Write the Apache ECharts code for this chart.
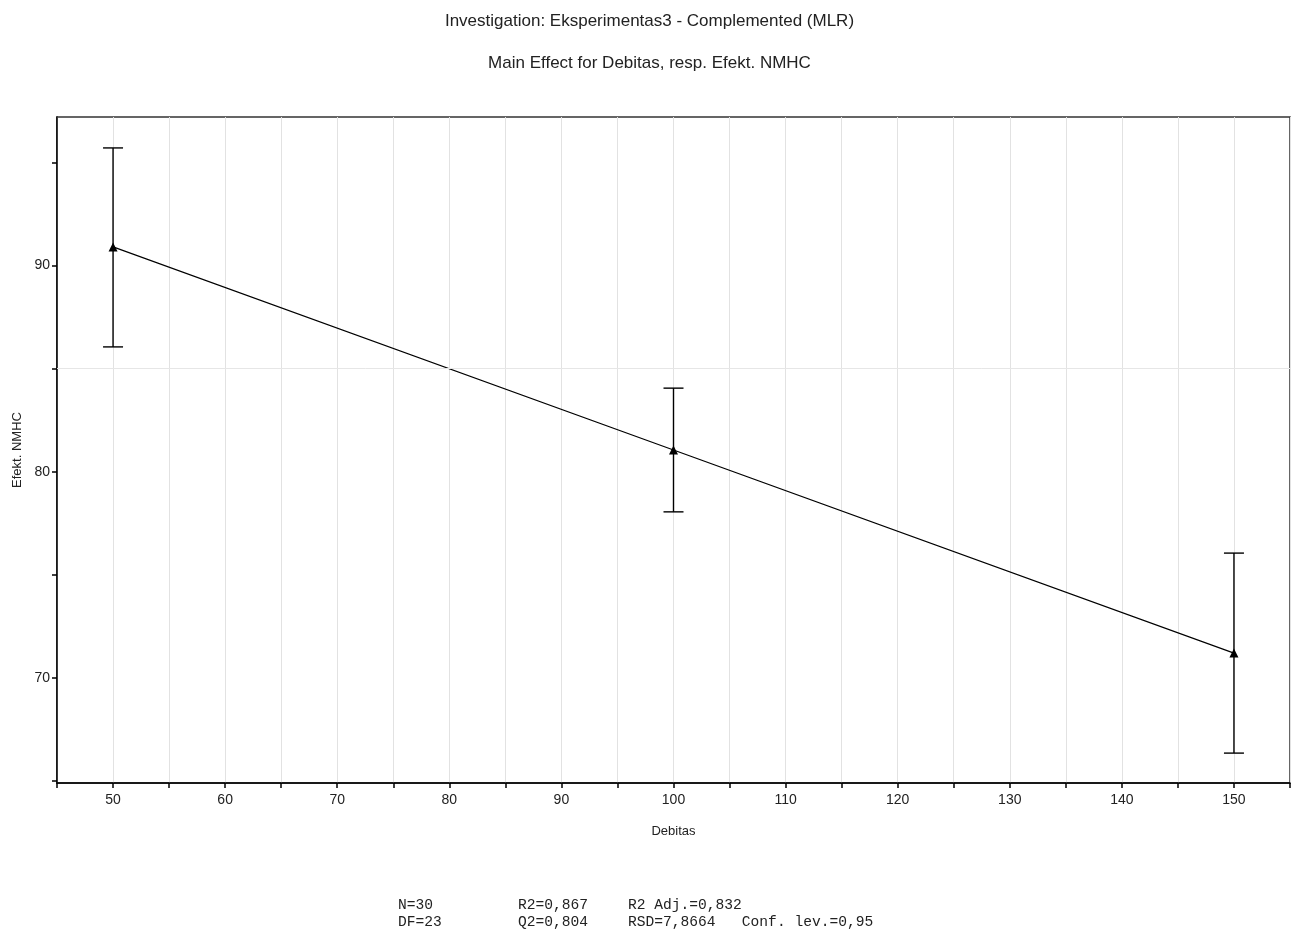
<!DOCTYPE html>
<html>
<head>
<meta charset="utf-8">
<script src="https://cdn.jsdelivr.net/npm/echarts@6/dist/echarts.min.js"></script>
<style>html,body{margin:0;padding:0;background:#fff}#c{width:1299px;height:935px}</style>
</head>
<body>
<div id="c"></div>
<script>
const debitas = [50, 100, 150];
const effect = [90.9, 81.05, 71.2];
const upper = [95.7, 84.05, 76.05];
const lower = [86.05, 78.05, 66.35];
const yTicks = [65, 70, 75, 80, 85, 90, 95];
const yLabels = [70, 80, 90];
const footRow1 = ['N=30', 'R2=0,867', 'R2 Adj.=0,832'];
const footRow2 = ['DF=23', 'Q2=0,804', 'RSD=7,8664   Conf. lev.=0,95'];

const chart = echarts.init(document.getElementById('c'));
const sans = '"Liberation Sans", Arial, sans-serif';
const mono = '"Liberation Mono", "Courier New", monospace';
const footX = [398, 518, 628];

const graphics = [];
footRow1.forEach((t, i) => graphics.push({type: 'text', left: footX[i], top: 898, style: {text: t, font: '14.6px ' + mono, fill: '#222'}}));
footRow2.forEach((t, i) => graphics.push({type: 'text', left: footX[i], top: 915, style: {text: t, font: '14.6px ' + mono, fill: '#222'}}));

chart.setOption({
  animation: false,
  backgroundColor: '#fff',
  title: [
    {text: 'Investigation: Eksperimentas3 - Complemented (MLR)', left: 'center', top: 8,
     textStyle: {fontFamily: sans, fontSize: 17, fontWeight: 'normal', color: '#222'}},
    {text: 'Main Effect for Debitas, resp. Efekt. NMHC', left: 'center', top: 50,
     textStyle: {fontFamily: sans, fontSize: 17, fontWeight: 'normal', color: '#222'}}
  ],
  graphic: graphics,
  grid: {left: 57, right: 9, top: 117, bottom: 152, outerBoundsMode: 'none', containLabel: false,
    show: true, borderColor: '#333', borderWidth: 1.5, backgroundColor: 'transparent'},
  xAxis: {
    type: 'value', min: 45, max: 155, interval: 5,
    name: 'Debitas', nameLocation: 'middle', nameGap: 42,
    nameTextStyle: {fontFamily: sans, fontSize: 13, color: '#222'},
    axisLine: {lineStyle: {color: '#000', width: 1.5}},
    axisTick: {length: 5, lineStyle: {color: '#000', width: 1.5}},
    axisLabel: {fontFamily: sans, fontSize: 14, color: '#222', margin: 10,
      formatter: v => (v % 10 === 0 ? String(v) : '')},
    splitLine: {show: true, lineStyle: {color: '#e2e2e2', width: 1}}
  },
  yAxis: {
    type: 'value', min: 64.9, max: 97.2,
    name: 'Efekt. NMHC', nameLocation: 'middle', nameGap: 33,
    nameTextStyle: {fontFamily: sans, fontSize: 13, color: '#222'},
    axisLine: {show: true, lineStyle: {color: '#000', width: 1.5}},
    axisTick: {show: true, length: 5, customValues: yTicks, lineStyle: {color: '#000', width: 1.5}},
    axisLabel: {fontFamily: sans, fontSize: 14, color: '#222', margin: 7, customValues: yLabels},
    splitLine: {show: false}
  },
  series: [
    {
      type: 'line',
      data: debitas.map((x, i) => [x, effect[i]]),
      symbol: 'triangle', symbolSize: 9,
      itemStyle: {color: '#000'},
      lineStyle: {color: '#000', width: 1.2},
      z: 3,
      markLine: {
        silent: true, symbol: 'none', label: {show: false},
        lineStyle: {color: '#e6e6e6', type: 'solid', width: 1},
        data: [{yAxis: 85}]
      }
    },
    {
      type: 'custom',
      data: debitas.map((x, i) => [x, lower[i], upper[i]]),
      z: 2,
      renderItem: (params, api) => {
        const x = api.value(0);
        const lo = api.coord([x, api.value(1)]);
        const hi = api.coord([x, api.value(2)]);
        const w = 10;
        const st = {stroke: '#000', lineWidth: 1.4};
        return {type: 'group', children: [
          {type: 'line', shape: {x1: lo[0], y1: lo[1], x2: hi[0], y2: hi[1]}, style: st},
          {type: 'line', shape: {x1: lo[0] - w, y1: lo[1], x2: lo[0] + w, y2: lo[1]}, style: st},
          {type: 'line', shape: {x1: hi[0] - w, y1: hi[1], x2: hi[0] + w, y2: hi[1]}, style: st}
        ]};
      }
    }
  ]
});
</script>
</body>
</html>
